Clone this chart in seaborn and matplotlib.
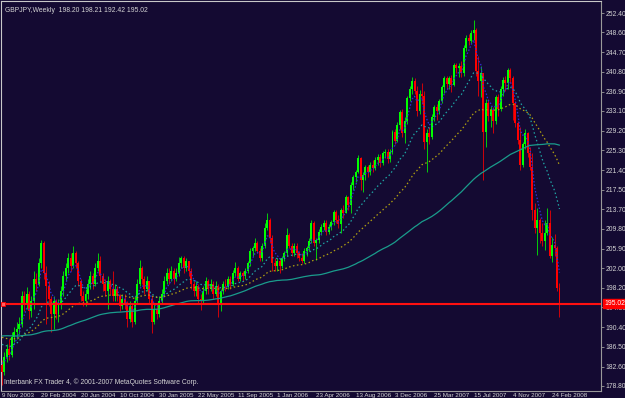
import numpy as np
import pandas as pd
import seaborn as sns
import matplotlib.pyplot as plt
from matplotlib import font_manager

# GBPJPY weekly bars, 9 Nov 2003 .. 16 Mar 2008 (open of a week = previous close)
first_open = 183.0
closes = [181.5, 184.5, 186.0, 185.0, 188.5, 189.5, 190.0, 191.0, 196.5, 195.0,
          197.0, 193.5, 195.5, 200.0, 199.0, 203.0, 207.0, 201.0, 198.5, 196.0,
          193.0, 195.5, 193.0, 195.0, 197.5, 200.5, 202.0, 204.0, 202.5, 205.0,
          203.0, 199.5, 196.5, 195.5, 197.0, 199.0, 200.5, 199.0, 202.0, 203.5,
          200.5, 199.0, 197.5, 199.5, 198.0, 196.5, 198.0, 196.5, 194.5, 196.0,
          195.0, 192.0, 194.5, 191.5, 195.5, 199.0, 202.0, 200.0, 198.0, 199.5,
          196.0, 191.5, 194.0, 193.0, 195.5, 197.0, 199.5, 201.0, 200.0, 201.5,
          200.0, 201.0, 203.0, 204.0, 202.0, 203.5, 201.5, 199.0, 197.5, 198.5,
          196.0, 195.5, 197.5, 199.5, 198.0, 199.0, 197.0, 198.5, 195.0, 197.5,
          199.0, 198.5, 200.0, 199.0, 201.0, 202.0, 200.0, 201.0, 200.5, 201.5,
          203.0, 205.5, 206.0, 207.0, 205.5, 204.0, 206.5, 210.0, 211.5, 208.0,
          203.0, 202.5, 203.5, 202.5, 204.0, 205.0, 208.5, 206.5, 205.0, 206.5,
          205.0, 204.0, 203.5, 205.5, 206.0, 207.5, 211.0, 207.0, 207.6, 209.2,
          210.2, 211.0, 209.2, 210.2, 211.2, 213.1, 211.5, 210.8, 213.5, 213.0,
          216.0, 214.5, 218.5, 220.0, 221.0, 223.8, 219.5, 220.5, 222.0, 221.0,
          222.5, 221.8, 223.4, 224.0, 222.8, 224.8, 225.0, 223.5, 225.0, 228.9,
          227.2, 230.3, 232.9, 228.7, 231.0, 235.6, 237.5, 239.0, 237.0, 233.0,
          236.5, 236.0, 227.0, 228.7, 228.0, 231.9, 233.8, 233.0, 235.0, 237.8,
          239.6, 238.3, 239.6, 238.2, 242.1, 241.5, 242.0, 240.5, 245.5, 247.5,
          246.8, 248.5, 249.0, 241.0, 239.0, 240.5, 229.0, 234.6, 232.0, 233.3,
          231.0, 235.8, 233.5, 237.5, 239.2, 238.5, 241.2, 239.5, 234.6, 230.7,
          227.3, 222.5, 226.5, 228.7, 224.8, 222.0, 213.5, 210.0, 211.5, 209.0,
          207.5, 209.0, 211.0, 204.5, 206.6, 206.0, 198.2, 195.02]
highs = [184.0, 185.5, 187.0, 188.0, 189.5, 190.5, 191.5, 192.5, 197.5, 197.5,
         198.3, 197.5, 196.5, 201.5, 201.0, 204.0, 207.7, 207.5, 202.5, 199.5,
         196.5, 196.5, 196.0, 196.0, 198.5, 201.5, 203.0, 205.0, 205.0, 206.5,
         205.5, 203.5, 200.0, 197.5, 198.0, 200.0, 201.5, 201.0, 203.0, 205.0,
         204.5, 201.0, 200.0, 200.5, 200.0, 201.5, 199.0, 198.5, 197.0, 197.0,
         197.0, 195.5, 195.5, 195.0, 196.5, 200.0, 203.7, 202.5, 200.5, 200.5,
         199.5, 196.5, 195.0, 195.0, 196.5, 198.0, 200.5, 202.0, 202.0, 202.5,
         202.0, 202.0, 204.3, 204.5, 204.5, 204.0, 203.5, 202.0, 199.5, 199.5,
         199.0, 197.0, 198.5, 200.3, 200.0, 200.0, 199.5, 199.5, 199.0, 198.0,
         199.5, 200.0, 200.5, 200.5, 201.7, 203.3, 202.5, 201.5, 201.5, 202.0,
         203.5, 206.0, 206.5, 208.0, 207.5, 206.0, 207.0, 211.0, 212.9, 212.0,
         208.5, 204.0, 204.0, 204.0, 204.5, 205.5, 210.0, 209.0, 207.0, 207.0,
         207.0, 205.5, 205.0, 206.0, 206.5, 208.0, 211.5, 211.4, 208.0, 209.8,
         210.7, 211.5, 211.5, 210.8, 211.6, 213.5, 213.5, 212.5, 214.0, 214.5,
         216.5, 216.3, 219.0, 220.5, 221.5, 224.3, 224.0, 221.0, 222.5, 222.5,
         223.0, 223.3, 224.0, 224.5, 224.5, 225.2, 225.5, 225.5, 225.5, 229.3,
         229.5, 230.8, 233.3, 233.5, 231.8, 236.0, 238.0, 239.8, 239.5, 238.0,
         237.2, 238.5, 237.0, 229.5, 230.0, 232.5, 234.2, 234.5, 235.5, 238.2,
         240.0, 240.0, 240.0, 240.2, 242.5, 242.5, 242.6, 243.0, 246.0, 248.0,
         248.3, 249.0, 251.1, 249.5, 244.0, 242.0, 240.0, 235.5, 235.5, 234.0,
         233.8, 236.2, 236.5, 238.0, 239.8, 240.0, 241.6, 241.5, 240.0, 235.0,
         231.0, 229.9, 227.0, 229.5, 229.0, 226.0, 224.8, 215.0, 213.9, 212.0,
         211.0, 211.6, 213.9, 213.5, 208.2, 208.8, 206.5, 199.21]
lows = [179.0, 181.0, 183.5, 184.0, 184.5, 187.5, 188.0, 189.0, 190.5, 193.5,
        194.0, 192.0, 192.5, 194.0, 197.5, 198.5, 202.0, 200.0, 191.0, 194.5,
        189.5, 190.0, 192.0, 191.5, 194.0, 196.5, 199.5, 201.0, 201.5, 202.0,
        202.0, 198.5, 195.5, 194.5, 194.5, 196.0, 198.0, 198.0, 198.5, 201.5,
        199.5, 197.5, 196.5, 194.0, 197.0, 195.5, 195.5, 195.5, 193.5, 194.0,
        194.0, 190.5, 191.5, 190.5, 191.0, 195.0, 198.5, 199.0, 197.0, 197.5,
        195.0, 189.3, 191.0, 192.0, 192.5, 195.0, 196.5, 199.0, 199.0, 199.5,
        199.0, 199.5, 200.5, 202.0, 201.0, 201.5, 200.5, 198.0, 196.5, 196.5,
        195.0, 193.8, 195.0, 197.0, 197.0, 197.5, 196.0, 196.5, 192.4, 193.5,
        197.0, 197.5, 198.0, 198.0, 198.5, 200.5, 199.5, 199.5, 199.5, 200.0,
        201.0, 202.5, 204.5, 205.5, 205.0, 203.5, 203.5, 206.0, 209.5, 207.0,
        201.5, 201.5, 201.5, 201.0, 202.0, 203.5, 204.5, 206.0, 204.5, 204.5,
        204.0, 203.5, 203.0, 203.0, 204.5, 205.5, 207.0, 206.5, 203.7, 207.0,
        208.5, 209.5, 208.5, 208.8, 209.5, 210.5, 211.0, 210.0, 209.0, 212.0,
        213.0, 213.5, 213.0, 217.5, 219.0, 220.8, 217.5, 217.0, 219.5, 220.0,
        220.5, 221.0, 221.5, 222.5, 222.0, 222.5, 223.8, 222.8, 223.0, 224.5,
        226.5, 227.0, 229.5, 228.0, 226.8, 230.5, 235.0, 236.5, 236.5, 232.0,
        232.5, 234.5, 225.5, 221.0, 226.5, 227.5, 231.0, 231.3, 232.5, 234.6,
        236.6, 237.5, 237.5, 236.8, 238.0, 240.5, 239.8, 239.8, 240.0, 245.0,
        246.0, 246.5, 247.0, 240.0, 236.0, 235.8, 219.5, 226.0, 231.0, 229.9,
        228.7, 230.5, 232.0, 233.0, 236.0, 237.0, 237.5, 238.5, 231.3, 230.0,
        226.5, 221.4, 222.0, 225.5, 224.0, 221.5, 211.6, 209.0, 204.7, 207.0,
        206.5, 205.6, 208.5, 204.0, 203.3, 204.5, 197.5, 192.42]

# weekly closes before the first visible bar (only feed the moving averages)
prior_closes = [176, 177, 178, 179, 181, 184, 187, 190, 191, 190, 192, 190, 189,
                191, 192, 190, 189, 188, 189, 190, 189, 190, 191, 192, 190,
                188, 186, 184, 183, 182, 184, 186, 185, 183, 182, 180, 181, 182,
                180, 181, 182, 184, 185, 186, 188, 189, 190, 191, 192, 193, 194,
                193, 192, 190, 189, 190, 191, 192, 191, 191, 193, 194, 195, 196,
                194, 192, 190, 189, 188, 187, 186, 185, 186, 187, 188, 189, 190,
                191, 190, 192, 194, 196, 197, 195, 196, 197, 195, 193, 192, 190,
                189, 190, 188, 187, 188, 187, 189, 186, 185, 184, 183, 184, 183]

# (period, exponential?) for the four averages
ma_specs = [(5, True), (21, True), (50, True), (100, False)]
tick_dates = ['9 Nov 2003', '29 Feb 2004', '20 Jun 2004', '10 Oct 2004', '30 Jan 2005',
              '22 May 2005', '11 Sep 2005', '1 Jan 2006', '23 Apr 2006', '13 Aug 2006',
              '3 Dec 2006', '25 Mar 2007', '15 Jul 2007', '4 Nov 2007', '24 Feb 2008']
price_ticks = [252.40, 248.60, 244.70, 240.80, 236.90, 233.10, 229.20, 225.30, 221.40,
               217.50, 213.70, 209.80, 205.90, 202.00, 198.20, 194.30, 190.40, 186.50,
               182.60, 178.80]
last_price = 195.02
header = 'GBPJPY,Weekly  198.20 198.21 192.42 195.02'
footer = 'Interbank FX Trader 4, \u00a9 2001-2007 MetaQuotes Software Corp.'

bg = '#140a32'
sns.set_style("dark", {"axes.facecolor": bg, "figure.facecolor": bg})
installed = {f.name for f in font_manager.fontManager.ttflist}
if 'Liberation Sans Narrow' in installed:
    plt.rcParams['font.family'] = ['Liberation Sans Narrow', 'DejaVu Sans']
    fs, fs_x = 5.8, 5.5
else:
    plt.rcParams['font.family'] = ['Liberation Sans', 'DejaVu Sans']
    fs, fs_x = 4.85, 4.5
txt = '#d4d4d4'

n = len(closes)
df = pd.DataFrame({'bar': np.arange(n), 'open': [first_open] + closes[:-1],
                   'high': highs, 'low': lows, 'close': closes})
df['up'] = df['close'] >= df['open']

fig = plt.figure(figsize=(6.25, 3.98), dpi=100)
ax = fig.add_axes([1 / 625, 7 / 398, 600 / 625, 390 / 398])
ax.set_facecolor(bg)
ax.grid(False)

# candles
for is_up, col in [(True, '#00ff00'), (False, '#ff0000')]:
    d = df[df['up'] == is_up]
    ax.vlines(d['bar'], d['low'], d['high'], color=col, linewidth=0.7, alpha=0.8, zorder=2)
    body = (d['close'] - d['open']).abs().clip(lower=0.25)
    ax.bar(d['bar'], body, bottom=d[['open', 'close']].min(axis=1), width=0.8,
           color=col, linewidth=0, zorder=3)

# moving averages
all_closes = pd.Series(prior_closes + closes, dtype=float)
ma_styles = [('#3030d8', (0, (1.2, 1.5)), 0.9),
             ('#1fa5a5', (0, (1.2, 2.0)), 0.9),
             ('#b0a010', (0, (1.2, 2.0)), 0.9),
             ('#1a9c8c', '-', 0.9)]
for (period, expo), (col, ls, lw) in zip(ma_specs, ma_styles):
    if expo:
        ma_all = all_closes.ewm(span=period, adjust=False).mean()
    else:
        ma_all = all_closes.rolling(period).mean()
    ma = ma_all.iloc[len(prior_closes):].to_numpy()
    sns.lineplot(x=df['bar'], y=ma, ax=ax, color=col, linestyle=ls, linewidth=lw, zorder=4)

# current price line
ax.axhline(last_price, color='#ff1010', linewidth=1.5, zorder=5)
ax.plot([0.4], [last_price], marker='s', markersize=3.2, mfc='#ff6060', mec='#ff0000',
        mew=0.6, zorder=6)

ax.set_xlim(-0.41, 243.9)
ax.set_ylim(177.81, 254.77)

ax.set_xticks(np.arange(len(tick_dates)) * 16)
ax.set_xticklabels(tick_dates, ha='left')
ax.yaxis.tick_right()
ax.set_yticks(price_ticks)
ax.set_yticklabels(['%.2f' % v for v in price_ticks])
ax.tick_params(axis='both', colors='#9a9a9a', labelcolor=txt,
               length=2, width=0.6, direction='out')
ax.tick_params(axis='x', pad=0.1, length=1.5, labelsize=fs_x)
ax.tick_params(axis='y', pad=1.0, labelsize=fs)

ax.set_xlabel('')
ax.set_ylabel('')
for side in ['left', 'top']:
    ax.spines[side].set_color('#c8c8c8')
    ax.spines[side].set_linewidth(0.8)
for side in ['right', 'bottom']:
    ax.spines[side].set_color('#9a9a9a')
    ax.spines[side].set_linewidth(0.8)
    ax.spines[side].set_linestyle((0, (2, 1)))

ax.text(1.005, last_price, '%.2f' % last_price, transform=ax.get_yaxis_transform(),
        ha='left', va='center', color='white', fontsize=fs, zorder=7,
        bbox=dict(boxstyle='square,pad=0.12', fc='#ff0000', ec='#ff0000'), clip_on=False)
ax.text(0.006, 0.985, header, transform=ax.transAxes, ha='left', va='top',
        color=txt, fontsize=fs)
ax.text(0.005, 0.022, footer, transform=ax.transAxes, ha='left', va='center',
        color=txt, fontsize=fs)

fig.savefig('out.png', dpi=100, facecolor=bg)
